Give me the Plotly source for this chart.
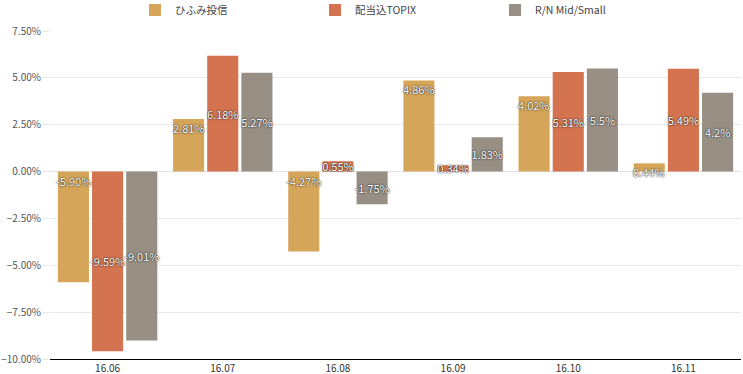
import plotly.graph_objects as go

categories = ["16.06", "16.07", "16.08", "16.09", "16.10", "16.11"]
series_names = ["ひふみ投信", "配当込TOPIX", "R/N Mid/Small"]
hifumi = [-5.90, 2.81, -4.27, 4.86, 4.02, 0.44]
topix = [-9.59, 6.18, 0.55, 0.34, 5.31, 5.49]
rn_mid_small = [-9.01, 5.27, -1.75, 1.83, 5.5, 4.2]
hifumi_labels = ["-5.90%", "2.81%", "-4.27%", "4.86%", "4.02%", "0.44%"]
topix_labels = ["-9.59%", "6.18%", "0.55%", "0.34%", "5.31%", "5.49%"]
rn_labels = ["-9.01%", "5.27%", "-1.75%", "1.83%", "5.5%", "4.2%"]
colors = ["#D5A65A", "#D3734F", "#978F84"]

W, H = 743, 374
ML, MR, MT, MB = 50, 2, 31, 15
BARGAP = 0.11
GROUPGAP = 0.09
FONT = "Noto Sans CJK JP"
label_font = dict(family=FONT, size=11, color="white",
                  shadow="0px 0px 1px #222, 0px 0px 2px rgba(0,0,0,0.8)")

fig = go.Figure()
fig.add_trace(go.Bar(name=series_names[0], x=categories, y=hifumi,
                     marker=dict(color=colors[0], line=dict(width=0))))
fig.add_trace(go.Bar(name=series_names[1], x=categories, y=topix,
                     marker=dict(color=colors[1], line=dict(width=0)),
                     text=topix_labels, textposition="inside",
                     insidetextanchor="middle", textangle=0,
                     constraintext="none", textfont=label_font))
fig.add_trace(go.Bar(name=series_names[2], x=categories, y=rn_mid_small,
                     marker=dict(color=colors[2], line=dict(width=0)),
                     text=rn_labels, textposition="inside",
                     insidetextanchor="middle", textangle=0,
                     constraintext="none", textfont=label_font))

# labels of first series sit at the upper edge of each bar
plot_w = W - ML - MR
slot = plot_w / len(categories) * (1 - BARGAP) / 3
for i, (v, t) in enumerate(zip(hifumi, hifumi_labels)):
    fig.add_annotation(x=i, y=max(v, 0), xref="x", yref="y", text=t,
                       showarrow=False, yanchor="top", yshift=1,
                       xshift=-slot, font=label_font)

fig.update_layout(
    width=W, height=H,
    margin=dict(l=ML, r=MR, t=MT, b=MB, pad=0, autoexpand=False),
    barmode="group", bargap=BARGAP, bargroupgap=GROUPGAP,
    plot_bgcolor="white", paper_bgcolor="white",
    font=dict(family=FONT, size=10, color="#444"),
    showlegend=True,
    legend=dict(orientation="h", x=0.123, xanchor="left", y=1.064,
                yanchor="middle", entrywidth=135, entrywidthmode="pixels",
                font=dict(family=FONT, size=10.5, color="#444"),
                bgcolor="rgba(0,0,0,0)"),
    xaxis=dict(type="category", showgrid=False, showline=True,
               linecolor="#000", linewidth=1, ticks="",
               tickfont=dict(size=10, color="#333")),
    yaxis=dict(range=[-10, 7.5], dtick=2.5, tick0=0, tickformat=".2f",
               ticksuffix="%", showgrid=True, gridcolor="#e9e9e9",
               zeroline=True, zerolinecolor="#e0e0e0", zerolinewidth=1,
               ticks="outside", ticklen=6, tickcolor="#e6e6e6",
               tickfont=dict(size=10, color="#555")),
)

fig.write_html("out.html", config={"displayModeBar": False},
               post_script="document.body.style.margin='0';")
